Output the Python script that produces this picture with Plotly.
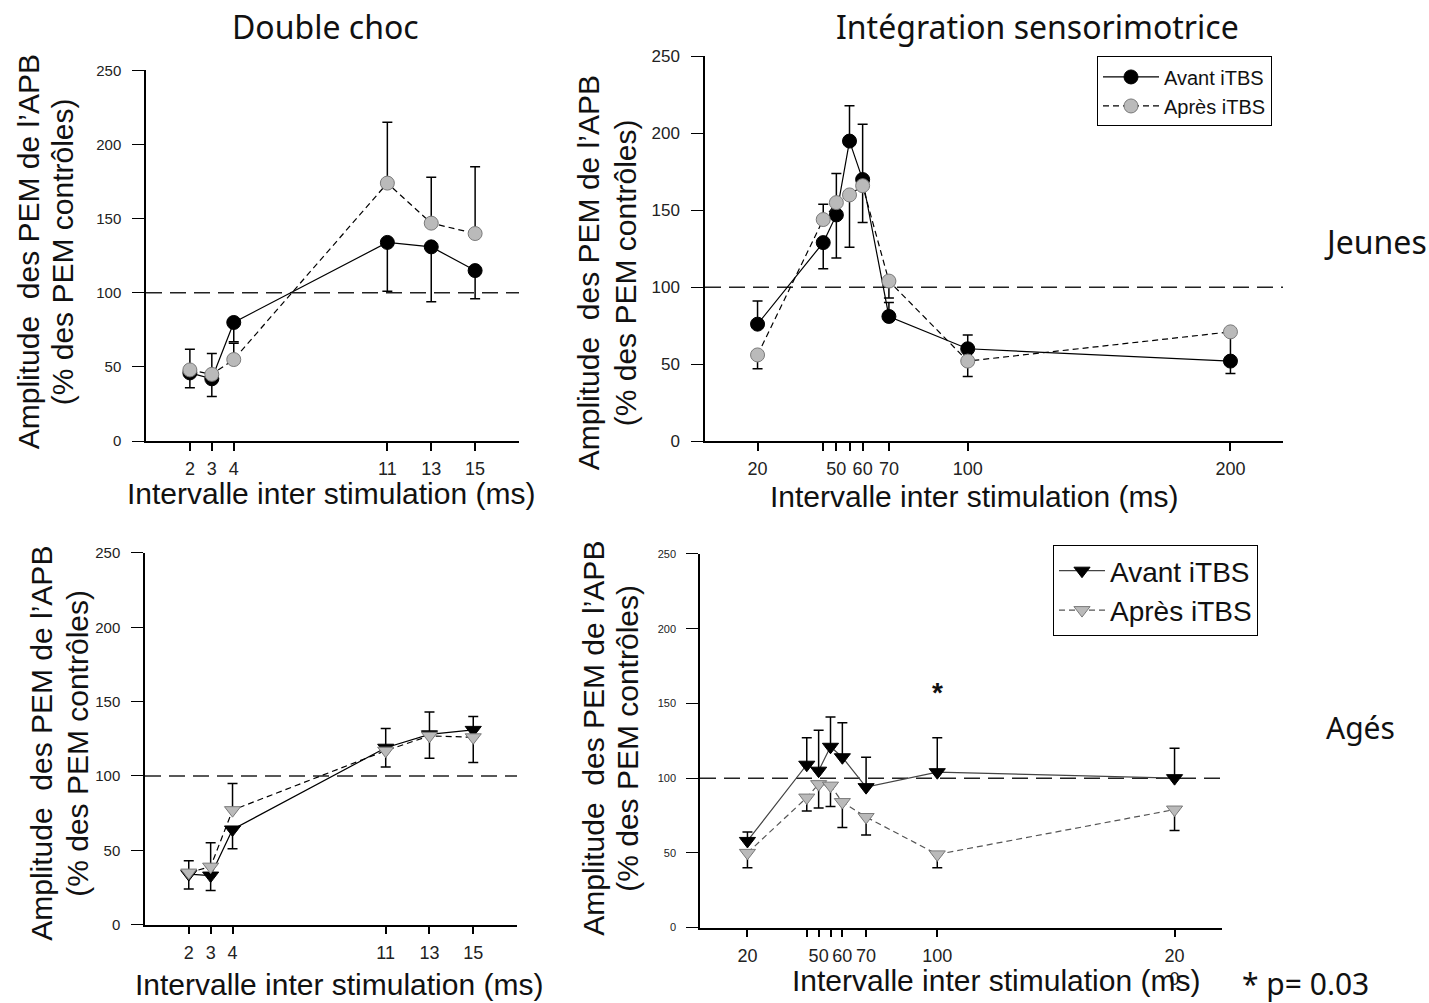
import plotly.graph_objects as go

W, H = 1429, 1003

# ---------------- DATA ----------------
x_dc = [2, 3, 4, 11, 13, 15]
x_is = [20, 45, 50, 55, 60, 70, 100, 200]

# Jeunes - Double choc
dcj_avant = [46, 42, 80, 134, 131, 115]
dcj_avant_plus = [0, 0, 0, 0, 0, 0]
dcj_avant_minus = [10, 12, 13, 33, 37, 19]
dcj_apres = [48, 45, 55, 174, 147, 140]
dcj_apres_plus = [14, 14, 11, 41, 31, 45]
dcj_apres_minus = [0, 0, 0, 0, 0, 0]

# Jeunes - Intégration sensorimotrice
isj_avant = [76, 129, 147, 195, 170, 81, 60, 52]
isj_avant_plus = [15, 0, 0, 23, 36, 9, 9, 19]
isj_avant_minus = [0, 17, 28, 0, 0, 0, 0, 8]
isj_apres = [56, 144, 155, 160, 166, 104, 52, 71]
isj_apres_plus = [0, 10, 19, 0, 0, 0, 0, 0]
isj_apres_minus = [9, 0, 0, 34, 24, 11, 10, 0]

# Agés - Double choc
dca_avant = [34, 33, 64, 119, 128, 131]
dca_avant_plus = [0, 0, 0, 0, 0, 0]
dca_avant_minus = [10, 10, 13, 13, 16, 22]
dca_apres = [35, 39, 77, 117, 127, 126]
dca_apres_plus = [8, 16, 18, 15, 16, 14]
dca_apres_minus = [0, 0, 0, 0, 0, 0]

# Agés - Intégration sensorimotrice
isa_avant = [58, 109, 105, 121, 114, 94, 104, 100]
isa_avant_plus = [6, 18, 27, 20, 23, 20, 23, 20]
isa_avant_minus = [0, 0, 0, 0, 0, 0, 0, 0]
isa_apres = [50, 87, 96, 95, 84, 74, 49, 79]
isa_apres_plus = [0, 0, 0, 0, 0, 0, 0, 0]
isa_apres_minus = [10, 9, 16, 14, 17, 12, 9, 14]

y_ticks = [0, 50, 100, 150, 200, 250]
dc_tickvals = [2, 3, 4, 11, 13, 15]
dc_ticktext = ["2", "3", "4", "11", "13", "15"]
isj_tickvals = [20, 45, 50, 55, 60, 70, 100, 200]
isj_ticktext = ["20", "", "50", "", "60", "70", "100", "200"]
isa_ticktext = ["20", "", "50", "", "60", "70", "100", "20<br>0"]

series_names = ["Avant iTBS", "Après iTBS"]
reference_level = 100
signif_x, signif_y = 100, 157

# ---------------- STYLE ----------------
FONT = "Liberation Sans, Arial, sans-serif"
TFONT = "Noto Sans, Open Sans, sans-serif"
GRAY = "#bababa"
GRAY_EDGE = "#7a7a7a"


def px_x(p):
    return p / W


def px_y(p):
    # vertical placement helper (pixel from top -> paper fraction)
    q = (p - 10.5) / 0.982
    return 1 - q / H


fig = go.Figure()


def add_pair(xs, av, avp, avm, ap, app, apm, xa, ya, symbol, legend=None,
             av_line="black", ap_line="black", msize=14):
    show = legend is not None
    err_common = dict(type="data", symmetric=False, color="black",
                      thickness=1.5, width=5)
    fig.add_trace(go.Scatter(
        x=xs, y=av, mode="lines+markers", name=series_names[0],
        xaxis=xa, yaxis=ya, showlegend=show, legend=legend or "legend",
        line=dict(color=av_line, width=1.2),
        marker=dict(symbol=symbol, size=msize, color="black",
                    line=dict(color="black", width=1)),
        error_y=dict(array=avp, arrayminus=avm, **err_common),
    ))
    fig.add_trace(go.Scatter(
        x=xs, y=ap, mode="lines+markers", name=series_names[1],
        xaxis=xa, yaxis=ya, showlegend=show, legend=legend or "legend",
        line=dict(color=ap_line, width=1.2, dash="6px,4px"),
        marker=dict(symbol=symbol, size=msize, color=GRAY,
                    line=dict(color=GRAY_EDGE, width=1)),
        error_y=dict(array=app, arrayminus=apm, **err_common),
    ))


add_pair(x_dc, dcj_avant, dcj_avant_plus, dcj_avant_minus,
         dcj_apres, dcj_apres_plus, dcj_apres_minus, "x", "y", "circle")
add_pair(x_is, isj_avant, isj_avant_plus, isj_avant_minus,
         isj_apres, isj_apres_plus, isj_apres_minus, "x2", "y2", "circle",
         legend="legend")
add_pair(x_dc, dca_avant, dca_avant_plus, dca_avant_minus,
         dca_apres, dca_apres_plus, dca_apres_minus, "x3", "y3",
         "triangle-down")
add_pair(x_is, isa_avant, isa_avant_plus, isa_avant_minus,
         isa_apres, isa_apres_plus, isa_apres_minus, "x4", "y4",
         "triangle-down", legend="legend2", av_line="#444444",
         ap_line="#555555")

# domains in pixels: (x0, x1, ytop, ybottom)
panels = {
    "1": (146, 519, 72, 443),
    "2": (705, 1283, 58, 443),
    "3": (145, 517, 555, 927),
    "4": (700, 1222, 556, 930),
}
xranges = {"1": [0, 17], "2": [0, 220], "3": [0, 17], "4": [0, 220]}
xtick = {
    "1": (dc_tickvals, dc_ticktext, 18),
    "2": (isj_tickvals, isj_ticktext, 18),
    "3": (dc_tickvals, dc_ticktext, 18),
    "4": (isj_tickvals, isa_ticktext, 18),
}
ytickfont = {"1": 15, "2": 17, "3": 15, "4": 11}

layout = {}
for k, (x0, x1, yt, yb) in panels.items():
    sx = "xaxis" if k == "1" else f"xaxis{k}"
    sy = "yaxis" if k == "1" else f"yaxis{k}"
    anchor_y = "y" if k == "1" else f"y{k}"
    anchor_x = "x" if k == "1" else f"x{k}"
    tv, tt, tf = xtick[k]
    layout[sx] = dict(
        domain=[px_x(x0), px_x(x1)], anchor=anchor_y, range=xranges[k],
        showline=True, linecolor="black", linewidth=1.5, showgrid=False,
        zeroline=False, ticks="outside", ticklen=8, tickwidth=1.5,
        tickcolor="black", tickvals=tv, ticktext=tt,
        tickfont=dict(family=FONT, size=tf, color="#222"),
        ticklabelstandoff=3,
    )
    layout[sy] = dict(
        domain=[px_y(yb), px_y(yt)], anchor=anchor_x, range=[0, 250],
        showline=True, linecolor="black", linewidth=1.5, showgrid=False,
        zeroline=False, ticks="outside", ticklen=12, tickwidth=1.2,
        tickcolor="black", tickvals=y_ticks,
        tickfont=dict(family=FONT, size=ytickfont[k], color="#222"),
        ticklabelstandoff=8,
    )

shapes = []
for k in panels:
    xr = "x" if k == "1" else f"x{k}"
    yr = "y" if k == "1" else f"y{k}"
    shapes.append(dict(
        type="line", xref=f"{xr} domain", yref=yr, x0=0, x1=1,
        y0=reference_level, y1=reference_level,
        line=dict(color="#222", width=1.5, dash="16px,8px"), layer="below",
    ))

anns = []
XT = "Intervalle inter stimulation (ms)"
YT1 = "Amplitude  des PEM de l’APB"
YT2 = "(% des PEM contrôles)"
for (cx, cy) in [(331, 495), (974, 498), (339, 987), (996, 983)]:
    anns.append(dict(text=XT, x=px_x(cx), y=px_y(cy), xref="paper",
                     yref="paper", showarrow=False, xanchor="center",
                     yanchor="middle",
                     font=dict(family=FONT, size=30, color="#111")))
for (cx1, cx2, cy) in [(28, 62, 254), (588, 625, 275),
                       (42, 78, 746), (594, 628, 741)]:
    for txt, cx in ((YT1, cx1), (YT2, cx2)):
        anns.append(dict(text=txt, x=px_x(cx), y=px_y(cy), xref="paper",
                         yref="paper", showarrow=False, xanchor="center",
                         yanchor="middle", textangle=-90,
                         font=dict(family=FONT, size=30, color="#111")))
for (txt, cx, cy, sz) in [("Double choc", 325, 28, 32),
                          ("Intégration sensorimotrice", 1037, 28, 32),
                          ("Jeunes", 1375, 243, 32),
                          ("Agés", 1360, 730, 30),
                          ("* p= 0.03", 1305, 986, 30)]:
    anns.append(dict(text=txt, x=px_x(cx), y=px_y(cy), xref="paper",
                     yref="paper", showarrow=False, xanchor="center",
                     yanchor="middle",
                     font=dict(family=TFONT, size=sz, color="#111")))
anns.append(dict(text="<b>*</b>", x=signif_x, y=signif_y, xref="x4",
                 yref="y4", showarrow=False, xanchor="center",
                 yanchor="middle",
                 font=dict(family=FONT, size=28, color="#111")))

fig.update_layout(
    width=W, height=H, margin=dict(l=0, r=0, t=0, b=0),
    paper_bgcolor="white", plot_bgcolor="white",
    shapes=shapes, annotations=anns,
    legend=dict(x=px_x(1097), y=px_y(58), xanchor="left", yanchor="top",
                bgcolor="white", bordercolor="black", borderwidth=1,
                font=dict(family=FONT, size=20, color="#111"),
                itemwidth=56, tracegroupgap=0),
    legend2=dict(x=px_x(1053), y=px_y(547), xanchor="left", yanchor="top",
                 bgcolor="white", bordercolor="black", borderwidth=1,
                 font=dict(family=FONT, size=28, color="#111"),
                 itemwidth=46, tracegroupgap=0),
    **layout,
)

fig.write_html(
    "out.html",
    config={"displayModeBar": False},
    post_script="document.body.style.margin='0';"
                "document.body.style.overflow='hidden';",
)
